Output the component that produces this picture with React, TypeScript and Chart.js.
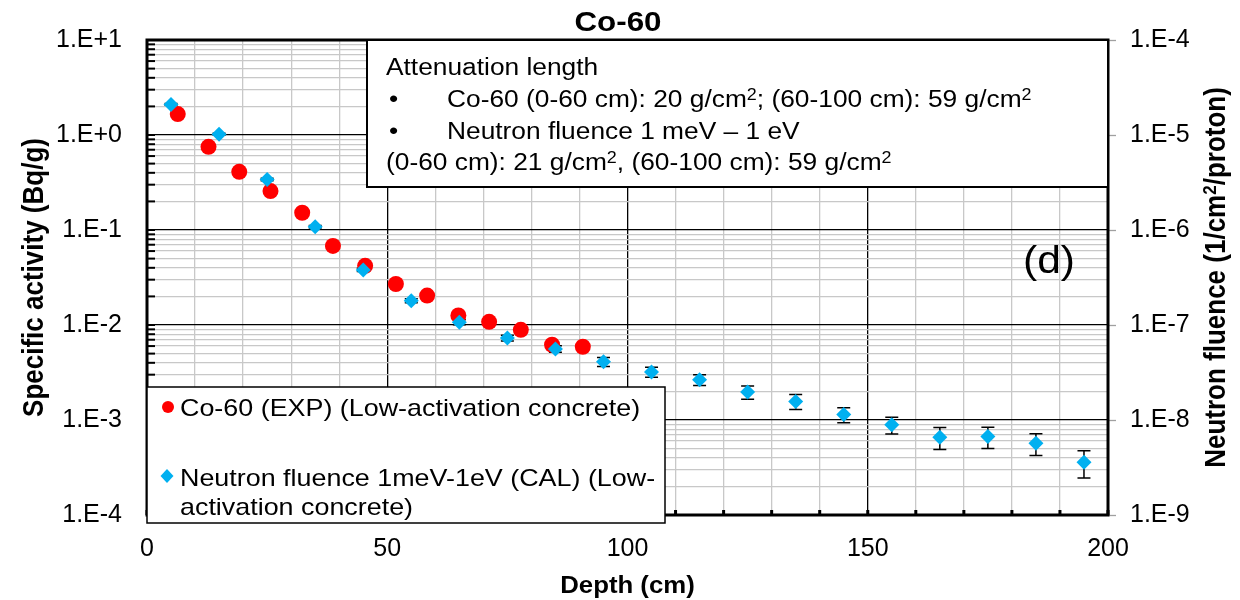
import React, { useEffect, useRef } from 'react';
import { Chart, registerables } from 'chart.js';

Chart.register(...registerables);

const FONT = '"Liberation Sans", Arial, Helvetica, sans-serif';
const SX = 1.12; // horizontal text stretch of the reference

// ---- data ----
const coDepth = [6.4, 12.8, 19.2, 25.7, 32.3, 38.7, 45.4, 51.8, 58.3, 64.8, 71.2, 77.8, 84.3, 90.7];
const coActivity = [1.66, 0.75, 0.41, 0.257, 0.152, 0.068, 0.042, 0.027, 0.0204, 0.0126, 0.0108, 0.0089, 0.0062, 0.0059];

const neutronDepth = [5, 15, 25, 35, 45, 55, 65, 75, 85, 95, 105, 115, 125, 135, 145, 155, 165, 175, 185, 195];
const neutronFluence = [2.1e-5, 1.02e-5, 3.4e-6, 1.08e-6, 3.8e-7, 1.8e-7, 1.07e-7, 7.3e-8, 5.6e-8, 4.1e-8, 3.2e-8, 2.65e-8, 1.97e-8, 1.57e-8, 1.14e-8, 8.9e-9, 6.6e-9, 6.7e-9, 5.7e-9, 3.6e-9];
const neutronRelErr = [0.02, 0.02, 0.03, 0.03, 0.04, 0.05, 0.06, 0.07, 0.08, 0.11, 0.12, 0.13, 0.16, 0.18, 0.18, 0.2, 0.26, 0.25, 0.26, 0.32];

const leftTickValues = [1e-4, 1e-3, 1e-2, 1e-1, 1, 10];
const leftTickLabels = ['1.E-4', '1.E-3', '1.E-2', '1.E-1', '1.E+0', '1.E+1'];
const rightTickValues = [1e-9, 1e-8, 1e-7, 1e-6, 1e-5, 1e-4];
const rightTickLabels = ['1.E-9', '1.E-8', '1.E-7', '1.E-6', '1.E-5', '1.E-4'];
const xTickValues = [0, 50, 100, 150, 200];
const xTickLabels = ['0', '50', '100', '150', '200'];

const titleText = 'Co-60';
const xTitle = 'Depth (cm)';
const yTitle = 'Specific activity (Bq/g)';
const y2Title = 'Neutron fluence (1/cm\u00B2/proton)';
const noteHeader = 'Attenuation length';
const noteBullet1 = 'Co-60 (0-60 cm): 20 g/cm\u00B2; (60-100 cm): 59 g/cm\u00B2';
const noteBullet2 = 'Neutron fluence 1 meV \u2013 1 eV';
const noteTail = '(0-60 cm): 21 g/cm\u00B2, (60-100 cm): 59 g/cm\u00B2';
const panelLabel = '(d)';
const legendCo = 'Co-60 (EXP) (Low-activation concrete)';
const legendN1 = 'Neutron fluence 1meV-1eV (CAL) (Low-';
const legendN2 = 'activation concrete)';

const RED = '#ff0000';
const BLUE = '#00b0f0';
const GRID_MINOR = '#c8c8c8';

function logTicks(decades: number[]) {
  const out: { value: number; major: boolean }[] = [];
  for (let i = 0; i < decades.length; i++) {
    const d = decades[i];
    out.push({ value: d, major: true });
    if (i < decades.length - 1) {
      for (let m = 2; m <= 9; m++) out.push({ value: m * d, major: false });
    }
  }
  return out;
}

function labelFor(vals: number[], labels: string[], v: number) {
  const i = vals.findIndex((t) => Math.abs(t - v) <= Math.abs(t) * 1e-6 + 1e-15);
  return i >= 0 ? labels[i] : '';
}

// draws text with "²" rendered as a real superscript, stretched horizontally
function sText(
  ctx: CanvasRenderingContext2D,
  text: string,
  x: number,
  y: number,
  align: CanvasTextAlign,
  size: number,
  bold = false,
  rot = 0,
) {
  const w = bold ? 'bold ' : '';
  const mainFont = `${w}${size}px ${FONT}`;
  const supFont = `${w}${Math.round(size * 0.66)}px ${FONT}`;
  const parts = text.split('\u00B2');
  ctx.save();
  ctx.translate(x, y);
  ctx.scale(SX, 1);
  if (rot) ctx.rotate(rot);
  ctx.textBaseline = 'alphabetic';
  ctx.textAlign = 'left';
  ctx.fillStyle = '#000';
  // measure
  let total = 0;
  parts.forEach((p, i) => {
    ctx.font = mainFont;
    total += ctx.measureText(p).width;
    if (i < parts.length - 1) {
      ctx.font = supFont;
      total += ctx.measureText('2').width;
    }
  });
  let cx = align === 'center' ? -total / 2 : align === 'right' ? -total : 0;
  const base = size * 0.36; // put cap-centre on y
  parts.forEach((p, i) => {
    ctx.font = mainFont;
    ctx.fillText(p, cx, base);
    cx += ctx.measureText(p).width;
    if (i < parts.length - 1) {
      ctx.font = supFont;
      ctx.fillText('2', cx, base - size * 0.33);
      cx += ctx.measureText('2').width;
    }
  });
  ctx.restore();
}

const decorPlugin = {
  id: 'decor',
  beforeDatasetsDraw(chart: any) {
    const ctx: CanvasRenderingContext2D = chart.ctx;
    const { left, right, top, bottom } = chart.chartArea;
    const ys = chart.scales.y;
    const xs = chart.scales.x;
    ctx.save();
    // inner tick marks on the left axis
    ctx.strokeStyle = '#000';
    ctx.lineWidth = 2;
    ys.ticks.forEach((t: any) => {
      const py = ys.getPixelForValue(t.value);
      ctx.beginPath();
      ctx.moveTo(left, py);
      ctx.lineTo(left + 8, py);
      ctx.stroke();
    });
    // inner tick marks on the bottom axis
    ctx.fillStyle = '#000';
    xs.ticks.forEach((t: any) => {
      const px = xs.getPixelForValue(t.value);
      ctx.fillRect(px - 1.5, bottom - 5, 3, 5);
    });
    // plot border
    ctx.lineWidth = 3;
    ctx.strokeRect(left, top, right - left, bottom - top);
    // error bars of the neutron fluence
    const y2 = chart.scales.y2;
    ctx.lineWidth = 1.5;
    neutronDepth.forEach((d, i) => {
      const v = neutronFluence[i];
      const e = neutronRelErr[i];
      const px = xs.getPixelForValue(d);
      const pHi = y2.getPixelForValue(v * (1 + e));
      const pLo = y2.getPixelForValue(v * (1 - e));
      ctx.beginPath();
      ctx.moveTo(px, pHi);
      ctx.lineTo(px, pLo);
      ctx.moveTo(px - 6.5, pHi);
      ctx.lineTo(px + 6.5, pHi);
      ctx.moveTo(px - 6.5, pLo);
      ctx.lineTo(px + 6.5, pLo);
      ctx.stroke();
    });
    ctx.restore();
  },
  afterDraw(chart: any) {
    const ctx: CanvasRenderingContext2D = chart.ctx;
    const { left, right, top, bottom } = chart.chartArea;
    const cx = (left + right) / 2;
    const cy = (top + bottom) / 2;
    ctx.save();

    // title and axis titles
    sText(ctx, titleText, 618, 21, 'center', 28, true);
    sText(ctx, xTitle, cx, 585, 'center', 23, true);
    sText(ctx, yTitle, 33, cy, 'center', 26, true, -Math.PI / 2);
    sText(ctx, y2Title, 1215, cy, 'center', 26, true, -Math.PI / 2);

    // note box
    const bx = 367;
    const by = top;
    ctx.fillStyle = '#fff';
    ctx.fillRect(bx, by, right - bx, 187 - by);
    ctx.strokeStyle = '#000';
    ctx.lineWidth = 2;
    ctx.strokeRect(bx, by, right - bx, 187 - by);
    sText(ctx, noteHeader, 386, 67, 'left', 23.5);
    sText(ctx, '\u2022', 389, 99, 'left', 23.5);
    sText(ctx, noteBullet1, 447, 99, 'left', 23.5);
    sText(ctx, '\u2022', 389, 131, 'left', 23.5);
    sText(ctx, noteBullet2, 447, 131, 'left', 23.5);
    sText(ctx, noteTail, 386, 162, 'left', 23.5);

    // panel label
    sText(ctx, panelLabel, 1023, 259, 'left', 38);

    // legend box
    const lx = left;
    const ly = 387;
    const lw = 665 - left;
    const lh = 523 - ly;
    ctx.fillStyle = '#fff';
    ctx.fillRect(lx, ly, lw, lh);
    ctx.strokeStyle = '#000';
    ctx.lineWidth = 1.5;
    ctx.strokeRect(lx, ly, lw, lh);
    ctx.fillStyle = RED;
    ctx.beginPath();
    ctx.arc(168, 407, 6, 0, Math.PI * 2);
    ctx.fill();
    ctx.fillStyle = BLUE;
    ctx.beginPath();
    ctx.moveTo(167, 469);
    ctx.lineTo(173.5, 476);
    ctx.lineTo(167, 483);
    ctx.lineTo(160.5, 476);
    ctx.closePath();
    ctx.fill();
    sText(ctx, legendCo, 180, 407, 'left', 24);
    sText(ctx, legendN1, 180, 477, 'left', 24);
    sText(ctx, legendN2, 180, 506, 'left', 24);

    ctx.restore();
  },
};

export default function App() {
  const ref = useRef<HTMLCanvasElement | null>(null);

  useEffect(() => {
    if (!ref.current) return;
    const tickFont = { family: FONT, size: 25 };
    const chart = new Chart(ref.current, {
      type: 'scatter',
      data: {
        datasets: [
          {
            label: legendN1 + legendN2,
            data: neutronDepth.map((x, i) => ({ x, y: neutronFluence[i] })),
            yAxisID: 'y2',
            pointStyle: 'rectRot',
            pointRadius: 7.5,
            backgroundColor: BLUE,
            borderColor: BLUE,
            borderWidth: 0,
            order: 0,
          },
          {
            label: legendCo,
            data: coDepth.map((x, i) => ({ x, y: coActivity[i] })),
            yAxisID: 'y',
            pointStyle: 'circle',
            pointRadius: 8,
            backgroundColor: RED,
            borderColor: RED,
            borderWidth: 0,
            order: 1,
          },
        ],
      },
      options: {
        animation: false,
        responsive: false,
        devicePixelRatio: 1,
        layout: { padding: { top: 40, left: 0, right: 0, bottom: 0 } },
        plugins: {
          legend: { display: false },
          tooltip: { enabled: false },
          title: { display: false },
        },
        scales: {
          x: {
            type: 'linear',
            min: 0,
            max: 200,
            border: { display: false },
            grid: {
              drawTicks: false,
              lineWidth: 1.3,
              color: (c: any) => (c.tick && xTickValues.includes(c.tick.value) ? '#000' : GRID_MINOR),
            },
            ticks: {
              stepSize: 10,
              autoSkip: false,
              maxRotation: 0,
              padding: 19,
              color: '#000',
              font: tickFont,
              callback: (v: any) => labelFor(xTickValues, xTickLabels, Number(v)),
            },
            afterFit: (s: any) => {
              s.height = 85;
            },
          },
          y: {
            type: 'logarithmic',
            position: 'left',
            min: 1e-4,
            max: 10,
            border: { display: false },
            afterBuildTicks: (s: any) => {
              s.ticks = logTicks(leftTickValues);
            },
            grid: {
              drawTicks: false,
              lineWidth: 1.3,
              color: (c: any) => (c.tick && c.tick.major ? '#000' : GRID_MINOR),
            },
            ticks: {
              autoSkip: false,
              padding: 25,
              color: '#000',
              font: tickFont,
              callback: (v: any) => labelFor(leftTickValues, leftTickLabels, Number(v)),
            },
            afterFit: (s: any) => {
              s.width = 147;
            },
          },
          y2: {
            type: 'logarithmic',
            position: 'right',
            min: 1e-9,
            max: 1e-4,
            border: { display: false },
            afterBuildTicks: (s: any) => {
              s.ticks = logTicks(rightTickValues);
            },
            grid: {
              drawOnChartArea: false,
              drawTicks: true,
              tickLength: 8,
              tickWidth: 1.3,
              tickColor: (c: any) => (c.tick && c.tick.major ? '#a0a0a0' : 'rgba(0,0,0,0)'),
            },
            ticks: {
              autoSkip: false,
              padding: 14,
              color: '#000',
              font: tickFont,
              callback: (v: any) => labelFor(rightTickValues, rightTickLabels, Number(v)),
            },
            afterFit: (s: any) => {
              s.width = 132;
            },
          },
        },
      } as any,
      plugins: [decorPlugin],
    });
    return () => chart.destroy();
  }, []);

  return (
    <div style={{ position: 'fixed', left: 0, top: 0, width: 1240, height: 600, background: '#fff' }}>
      <canvas ref={ref} width={1240} height={600} style={{ display: 'block' }} />
    </div>
  );
}
